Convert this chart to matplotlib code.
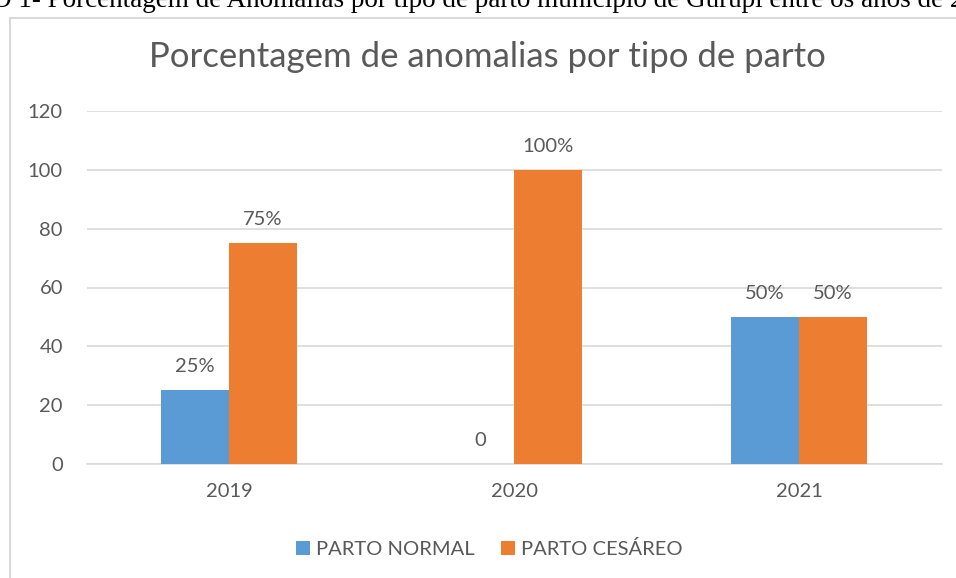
import numpy as np
import matplotlib.pyplot as plt
from matplotlib.patches import Rectangle

# data
anos = ["2019", "2020", "2021"]
parto_normal = [25, 0, 50]
parto_cesareo = [75, 100, 50]
rotulos_normal = ["25%", "0", "50%"]
rotulos_cesareo = ["75%", "100%", "50%"]

azul = "#5B9BD5"
laranja = "#ED7D31"
cinza = "#595959"

plt.rcParams['font.family'] = ['Lato', 'DejaVu Sans']

fig = plt.figure(figsize=(9.56, 5.78), dpi=100)

# caption cut at the top of the page (as in the source image)
fig.text(-8 / 956, 1 - 7 / 578, "O 1- Porcentagem de Anomalias por tipo de parto município de Gurupi entre os anos de 2019",
         family='Liberation Serif', fontsize=19.55, color='black', ha='left', va='baseline')

# chart frame (continues beyond the cut)
fig.patches.append(Rectangle((10 / 956, -0.1), 1.2, 1 - 18 / 578 + 0.1, transform=fig.transFigure,
                             fill=False, edgecolor='#D9D9D9', linewidth=1.5))

ax = fig.add_axes([86.5 / 956, 1 - 464 / 578, (941.5 - 86.5) / 956, (464 - 111) / 578])

x = np.arange(len(anos))
w = 0.239
b1 = ax.bar(x - w / 2, parto_normal, w, color=azul, label="PARTO NORMAL", zorder=3)
b2 = ax.bar(x + w / 2, parto_cesareo, w, color=laranja, label="PARTO CESÁREO", zorder=3)

for rect, txt in zip(b1, rotulos_normal):
    ax.annotate(txt, (rect.get_x() + rect.get_width() / 2, rect.get_height()), xytext=(0, 11),
                textcoords='offset points', ha='center', va='bottom', fontsize=14.5, color=cinza)
for rect, txt in zip(b2, rotulos_cesareo):
    ax.annotate(txt, (rect.get_x() + rect.get_width() / 2, rect.get_height()), xytext=(0, 11),
                textcoords='offset points', ha='center', va='bottom', fontsize=14.5, color=cinza)

ax.set_xlim(-0.5, 2.5)
ax.set_ylim(0, 120)
ax.set_yticks(range(0, 121, 20))
ax.set_xticks(x)
ax.set_xticklabels(anos)
ax.yaxis.grid(True, color='#D9D9D9', linewidth=1.2, zorder=0)
ax.set_axisbelow(True)
for s in ['top', 'right', 'left']:
    ax.spines[s].set_visible(False)
ax.spines['bottom'].set_color('#D9D9D9')
ax.spines['bottom'].set_linewidth(1.2)
ax.tick_params(axis='both', length=0, labelsize=14.5, labelcolor=cinza)
ax.tick_params(axis='y', pad=17)
ax.tick_params(axis='x', pad=14)

fig.text(0.51, 1 - 67 / 578, "Porcentagem de anomalias por tipo de parto", fontsize=25,
         color=cinza, ha='center', va='baseline')

fig.legend(loc='center', bbox_to_anchor=(0.512, 1 - 549 / 578), ncol=2, frameon=False,
           fontsize=14.5, labelcolor=cinza, handlelength=0.7, handleheight=0.7,
           handletextpad=0.3, columnspacing=1.3)

fig.savefig("out.png", dpi=100)
